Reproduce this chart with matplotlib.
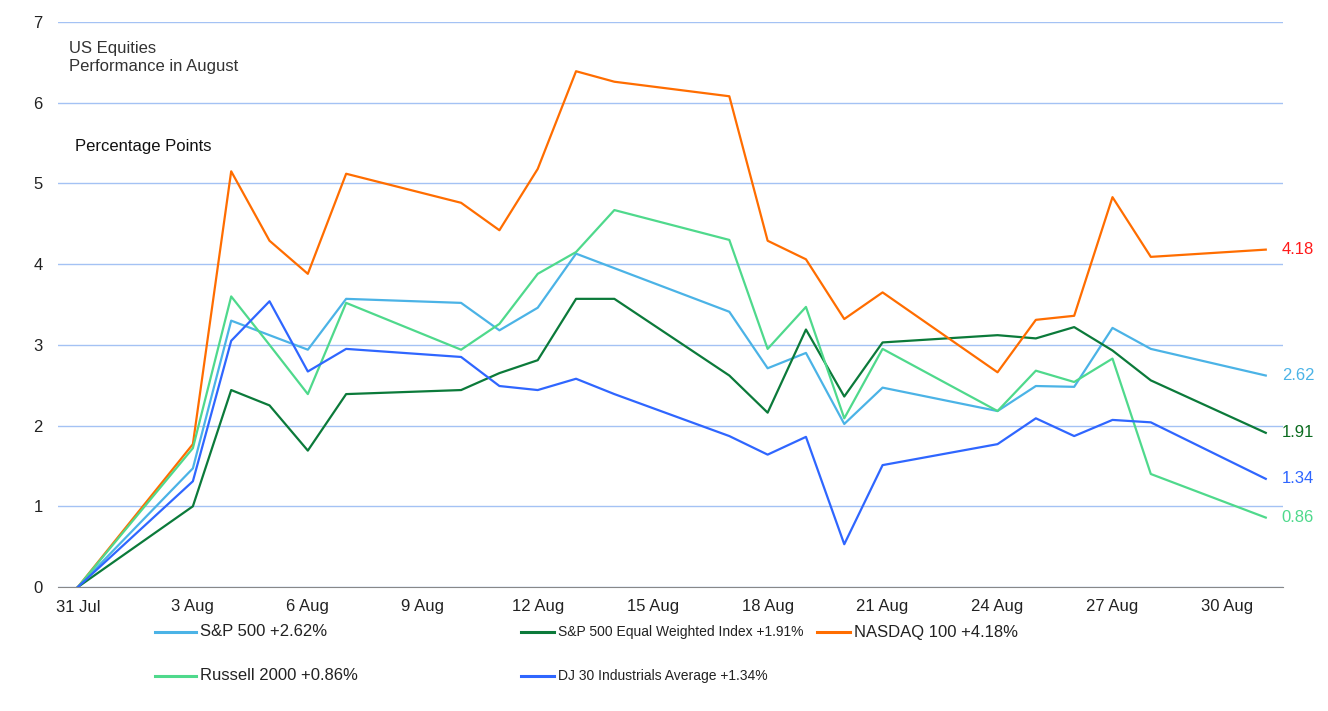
import pandas as pd
import matplotlib.pyplot as plt
import matplotlib.dates as mdates
from matplotlib.lines import Line2D

plt.rcParams['font.family'] = ['Liberation Sans', 'DejaVu Sans']

dates = pd.to_datetime(['2020-07-31', '2020-08-03', '2020-08-04', '2020-08-05', '2020-08-06',
                        '2020-08-07', '2020-08-10', '2020-08-11', '2020-08-12', '2020-08-13',
                        '2020-08-14', '2020-08-17', '2020-08-18', '2020-08-19', '2020-08-20',
                        '2020-08-21', '2020-08-24', '2020-08-25', '2020-08-26', '2020-08-27',
                        '2020-08-28', '2020-08-31'])

sp500 = [0, 1.47, 3.30, 3.12, 2.94, 3.57, 3.52, 3.18, 3.46, 4.13, 3.95,
         3.41, 2.71, 2.90, 2.02, 2.47, 2.18, 2.49, 2.48, 3.21, 2.95, 2.62]
sp500_eqw = [0, 1.00, 2.44, 2.25, 1.69, 2.39, 2.44, 2.65, 2.81, 3.57, 3.57,
             2.62, 2.16, 3.19, 2.36, 3.03, 3.12, 3.08, 3.22, 2.93, 2.56, 1.91]
nasdaq100 = [0, 1.77, 5.15, 4.29, 3.88, 5.12, 4.76, 4.42, 5.18, 6.39, 6.26,
             6.08, 4.29, 4.06, 3.32, 3.65, 2.66, 3.31, 3.36, 4.83, 4.09, 4.18]
russell2000 = [0, 1.72, 3.60, 3.00, 2.39, 3.52, 2.94, 3.26, 3.88, 4.15, 4.67,
               4.30, 2.95, 3.47, 2.09, 2.95, 2.18, 2.68, 2.54, 2.83, 1.40, 0.86]
dj30 = [0, 1.31, 3.05, 3.54, 2.67, 2.95, 2.85, 2.49, 2.44, 2.58, 2.39,
        1.87, 1.64, 1.86, 0.53, 1.51, 1.77, 2.09, 1.87, 2.07, 2.04, 1.34]

names = ['S&P 500 +2.62%', 'S&P 500 Equal Weighted Index +1.91%', 'NASDAQ 100 +4.18%',
         'Russell 2000 +0.86%', 'DJ 30 Industrials Average +1.34%']
series = [sp500, sp500_eqw, nasdaq100, russell2000, dj30]
colors = ['#4bb3e6', '#0b7a3a', '#ff6d00', '#4fd98c', '#2f66ff']
end_colors = ['#4bb3e6', '#0b6b1f', '#ff1a1a', '#4fd98c', '#2f66ff']

fig = plt.figure(figsize=(13.28, 7.11), dpi=100)
ax = fig.add_axes([58 / 1328, 1 - 587 / 711, 1225 / 1328, 565 / 711])

for vals, c in zip(series, colors):
    ax.plot(dates, vals, color=c, lw=1.6, zorder=3)

# value labels at the right end
for vals, c in zip(series, end_colors):
    ax.annotate(f'{vals[-1]:.2f}', xy=(dates[-1], vals[-1]), xytext=(11.5, 0),
                textcoords='offset points', va='center', ha='left',
                color=c, fontsize=12)

ax.set_ylim(0, 7)
ax.set_yticks(range(0, 8))
ax.set_xlim(dates[0] - pd.Timedelta(days=0.52), dates[0] + pd.Timedelta(days=31.45))
ax.set_xticks(pd.date_range('2020-07-31', periods=11, freq='3D'))
ax.xaxis.set_major_formatter(mdates.DateFormatter('%-d %b'))
ax.grid(axis='y', color='#a4c2f4', lw=1)
ax.set_axisbelow(True)
for s in ['top', 'right', 'left']:
    ax.spines[s].set_visible(False)
ax.spines['bottom'].set_color('#888888')
ax.tick_params(length=0, labelsize=12, colors='#222222')
ax.tick_params(axis='y', pad=11)
ax.tick_params(axis='x', pad=9)

fig.text(69 / 1328, 1 - 58 / 711, 'US Equities\nPerformance in August', fontsize=12,
         color='#333333', va='center', linespacing=1.25)
fig.text(75 / 1328, 1 - 146 / 711, 'Percentage Points', fontsize=12, color='#111111', va='center')

# legend drawn by hand, laid out like the original
leg_pos = [(155, 632, 41), (521, 632, 33), (817, 632, 33), (155, 676, 41), (521, 676, 33)]
leg_size = [12, 10, 12, 12, 10]
for (px, py, hw), name, c, fs in zip(leg_pos, names, colors, leg_size):
    y = 1 - py / 711
    fig.add_artist(Line2D([px / 1328, (px + hw) / 1328], [y, y], color=c, lw=2.2))
    fig.text((px + hw + 4) / 1328, y, name, fontsize=fs, color='#222222', va='center')

fig.savefig('out.png', dpi=100)
